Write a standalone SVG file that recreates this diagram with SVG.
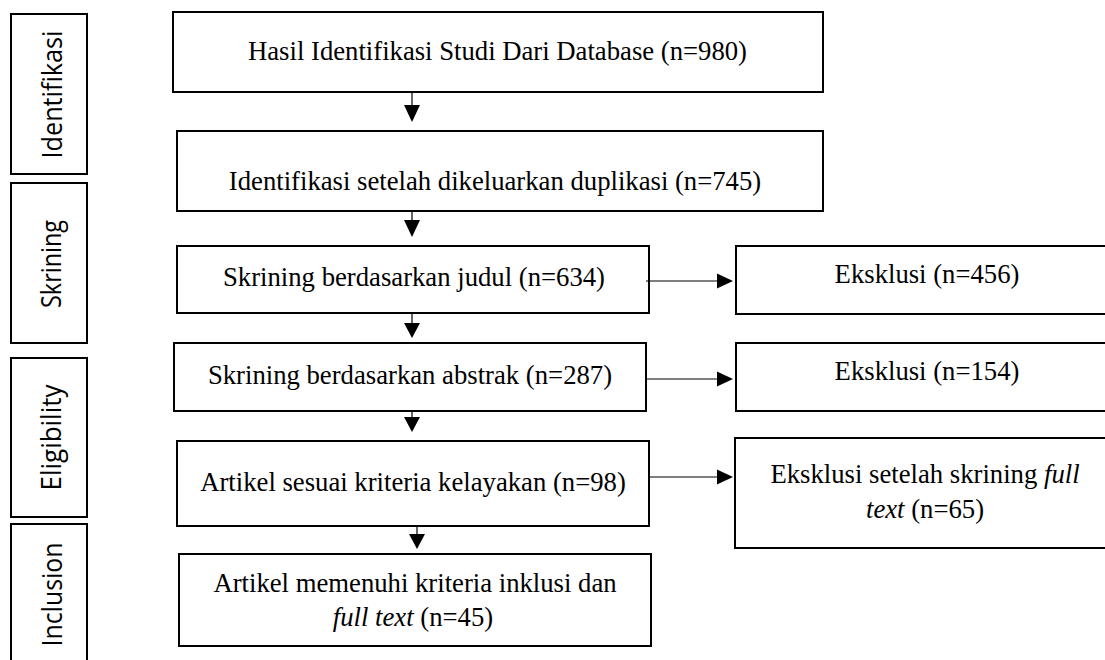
<svg xmlns="http://www.w3.org/2000/svg" width="1105" height="660" viewBox="0 0 1105 660">
<style>
.box{fill:#fff;stroke:#000;stroke-width:2}
.t{font-family:"Liberation Serif","Times New Roman",serif;font-size:26.7px;fill:#000;text-anchor:middle}
.s{font-family:"Open Sans","Noto Sans",sans-serif;font-size:27px;fill:#000;text-anchor:middle}
.ln{stroke:#000;stroke-width:1.2;fill:none}
.ah{fill:#000}
</style>
<rect width="1105" height="660" fill="#fff"/>
<g id="stage-identifikasi"><rect class="box" x="11" y="14" width="76" height="160"/><text class="s" transform="translate(62,94.5) rotate(-90)" textLength="128" lengthAdjust="spacingAndGlyphs">Identifikasi</text></g>
<g id="stage-skrining"><rect class="box" x="11" y="183" width="76" height="160"/><text class="s" transform="translate(61,264) rotate(-90)" textLength="88" lengthAdjust="spacingAndGlyphs">Skrining</text></g>
<g id="stage-eligibility"><rect class="box" x="11" y="358" width="76" height="159"/><text class="s" transform="translate(61,437.5) rotate(-90)" textLength="106" lengthAdjust="spacingAndGlyphs">Eligibility</text></g>
<g id="stage-inclusion"><rect class="box" x="11" y="524" width="76" height="141"/><text class="s" transform="translate(62,594.5) rotate(-90)" textLength="104" lengthAdjust="spacingAndGlyphs">Inclusion</text></g>

<g id="n1"><rect class="box" x="173" y="12" width="650" height="80"/><text class="t" x="497.5" y="60">Hasil Identifikasi Studi Dari Database (n=980)</text></g>
<g id="n2"><rect class="box" x="177" y="131" width="646" height="80"/><text class="t" x="495" y="190">Identifikasi setelah dikeluarkan duplikasi (n=745)</text></g>
<g id="n3"><rect class="box" x="177" y="246" width="472" height="67"/><text class="t" x="414" y="286">Skrining berdasarkan judul (n=634)</text></g>
<g id="n4"><rect class="box" x="174" y="343" width="472" height="68"/><text class="t" x="410" y="384">Skrining berdasarkan abstrak (n=287)</text></g>
<g id="n5"><rect class="box" x="177" y="441" width="472" height="85"/><text class="t" x="413" y="491">Artikel sesuai kriteria kelayakan (n=98)</text></g>
<g id="n6"><rect class="box" x="179" y="554" width="472" height="92"/><text class="t" x="415" y="592">Artikel memenuhi kriteria inklusi dan</text><text class="t" x="413" y="626"><tspan font-style="italic">full text</tspan> (n=45)</text></g>
<g id="e1"><rect class="box" x="736" y="246" width="380" height="68"/><text class="t" x="927" y="283">Eksklusi (n=456)</text></g>
<g id="e2"><rect class="box" x="736" y="343" width="380" height="68"/><text class="t" x="927" y="380">Eksklusi (n=154)</text></g>
<g id="e3"><rect class="box" x="735" y="438" width="381" height="110"/><text class="t" x="925" y="483">Eksklusi setelah skrining <tspan font-style="italic">full</tspan></text><text class="t" x="925" y="518"><tspan font-style="italic">text</tspan> (n=65)</text></g>

<g id="connectors">
<line class="ln" x1="412" y1="93" x2="412" y2="106"/><polygon class="ah" points="404,105 420,105 412,122"/>
<line class="ln" x1="412" y1="212" x2="412" y2="221"/><polygon class="ah" points="404,220 420,220 412,237"/>
<line class="ln" x1="412" y1="314" x2="412" y2="324"/><polygon class="ah" points="404,323 420,323 412,338"/>
<line class="ln" x1="412" y1="412" x2="412" y2="418"/><polygon class="ah" points="404,417 420,417 412,432"/>
<line class="ln" x1="417" y1="527" x2="417" y2="535"/><polygon class="ah" points="409,534 425,534 417,549"/>
<line class="ln" x1="646" y1="281" x2="718" y2="281"/><polygon class="ah" points="717,273.5 733,281 717,288.5"/>
<line class="ln" x1="646" y1="379" x2="718" y2="379"/><polygon class="ah" points="717,371.5 733,379 717,386.5"/>
<line class="ln" x1="649" y1="477" x2="718" y2="477"/><polygon class="ah" points="717,469.5 733,477 717,484.5"/>
</g>
</svg>
